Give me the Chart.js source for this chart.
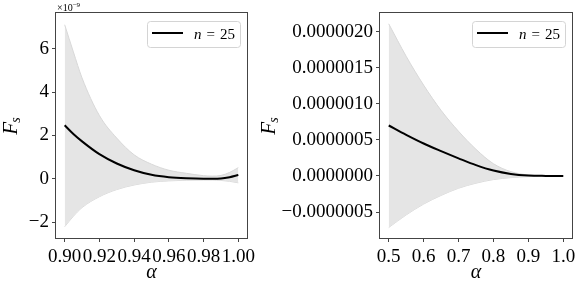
<!DOCTYPE html>
<html>
<head>
<meta charset="utf-8">
<script src="https://cdn.jsdelivr.net/npm/chart.js@4.4.0/dist/chart.umd.min.js"></script>
<style>
  body { margin: 0; background: #fff; }
  #wrap { position: relative; width: 581px; height: 288px; }
  canvas { position: absolute; top: 0; }
  #left { left: 0; }
  #right { left: 258px; }
</style>
</head>
<body>
<div id="wrap">
  <canvas id="left" width="258" height="288"></canvas>
  <canvas id="right" width="323" height="288"></canvas>
</div>
<script>
// left panel, values in units of 1e-9
const leftAlpha = [0.90, 0.905, 0.91, 0.92, 0.93, 0.94, 0.95, 0.96, 0.97, 0.98, 0.985, 0.99, 0.995, 1.00];
const leftMean  = [2.47, 2.07, 1.73, 1.14, 0.71, 0.40, 0.19, 0.08, 0.03, 0.01, 0.01, 0.02, 0.08, 0.18];
const leftUpper = [7.10, 5.85, 4.65, 2.92, 1.88, 1.11, 0.68, 0.40, 0.26, 0.15, 0.13, 0.16, 0.30, 0.52];
const leftLower = [-2.20, -1.72, -1.32, -0.82, -0.49, -0.28, -0.15, -0.09, -0.06, -0.05, -0.05, -0.07, -0.11, -0.18];
const leftXTicks = [0.90, 0.92, 0.94, 0.96, 0.98, 1.00];
const leftXLabels = ['0.90', '0.92', '0.94', '0.96', '0.98', '1.00'];
const leftYTicks = [-2, 0, 2, 4, 6];
const leftYLabels = ['\u22122', '0', '2', '4', '6'];

// right panel, values in units of 1e-6
const rightAlpha = [0.50, 0.55, 0.60, 0.65, 0.70, 0.75, 0.80, 0.85, 0.90, 0.95, 1.00];
const rightMean  = [0.70, 0.57, 0.45, 0.345, 0.245, 0.15, 0.075, 0.028, 0.006, 0.001, 0.0];
const rightUpper = [2.11, 1.66, 1.26, 0.91, 0.62, 0.37, 0.17, 0.06, 0.014, 0.002, 0.0];
const rightLower = [-0.715, -0.54, -0.39, -0.27, -0.17, -0.10, -0.05, -0.023, -0.009, -0.002, 0.0];
const rightXTicks = [0.5, 0.6, 0.7, 0.8, 0.9, 1.0];
const rightXLabels = ['0.5', '0.6', '0.7', '0.8', '0.9', '1.0'];
const rightYTicks = [-0.5, 0, 0.5, 1.0, 1.5, 2.0];
const rightYLabels = ['\u22120.0000005', '0.0000000', '0.0000005', '0.0000010', '0.0000015', '0.0000020'];

const legendLabel = 'n = 25';
const FONT = "'Liberation Serif', 'DejaVu Serif', serif";

function pts(xs, ys) {
    return xs.map((x, i) => ({x: x, y: ys[i]}));
}

// box around the plot area
const frame = {
    id: 'frame',
    afterDatasetsDraw(chart) {
        const {ctx, chartArea: a} = chart;
        ctx.save();
        ctx.strokeStyle = '#444';
        ctx.lineWidth = 1;
        ctx.strokeRect(a.left - 0.5, a.top - 0.5, a.right - a.left + 1, a.bottom - a.top + 1);
        ctx.restore();
    }
};

// legend drawn inside the upper right corner
const insideLegend = {
    id: 'insideLegend',
    afterDraw(chart) {
        const {ctx, chartArea: a} = chart;
        const ds = chart.data.datasets[0];
        const w = 93, h = 26;
        const x = a.right - 7 - w, y = a.top + 8;
        ctx.save();
        ctx.beginPath();
        ctx.roundRect(x + 0.5, y + 0.5, w, h, 3);
        ctx.fillStyle = 'rgba(255,255,255,0.8)';
        ctx.fill();
        ctx.strokeStyle = '#d4d4d4';
        ctx.lineWidth = 1;
        ctx.stroke();
        ctx.beginPath();
        ctx.moveTo(x + 5, y + 12);
        ctx.lineTo(x + 36, y + 12);
        ctx.strokeStyle = ds.borderColor;
        ctx.lineWidth = ds.borderWidth;
        ctx.stroke();
        const sym = ds.label.split(' ')[0];
        const rest = ds.label.slice(sym.length);
        ctx.fillStyle = '#000';
        ctx.textBaseline = 'alphabetic';
        ctx.font = 'italic 15px ' + FONT;
        ctx.fillText(sym, x + 47, y + 17.5);
        const sw = ctx.measureText(sym).width;
        ctx.font = '15px ' + FONT;
        ctx.fillText(rest.replace(/ /g, '\u2004'), x + 47 + sw, y + 17.5);
        ctx.restore();
    }
};

// rotated F_s title and the optional offset text
const extras = {
    id: 'extras',
    afterDraw(chart, args, opts) {
        const {ctx, chartArea: a} = chart;
        ctx.save();
        ctx.fillStyle = '#000';
        ctx.translate(10, (a.top + a.bottom) / 2);
        ctx.rotate(-Math.PI / 2);
        ctx.font = 'italic 21px ' + FONT;
        const fw = ctx.measureText('F').width;
        ctx.font = 'italic 14px ' + FONT;
        const sw = ctx.measureText('s').width;
        const x0 = -(fw + sw) / 2;
        ctx.font = 'italic 21px ' + FONT;
        ctx.fillText('F', x0, 7);
        ctx.font = 'italic 14px ' + FONT;
        ctx.fillText('s', x0 + fw - 1, 10);
        ctx.restore();
        if (opts.exp) {
            ctx.save();
            ctx.fillStyle = '#000';
            ctx.font = '10px ' + FONT;
            ctx.fillText('\u00d710', a.left + 1, a.top - 2);
            const w = ctx.measureText('\u00d710').width;
            ctx.font = '7px ' + FONT;
            ctx.fillText(opts.exp, a.left + 1 + w, a.top - 6);
            ctx.restore();
        }
    }
};

function makeChart(id, cfg) {
    const ctx = document.getElementById(id).getContext('2d');
    return new Chart(ctx, {
        type: 'line',
        data: {
            datasets: [{
                label: legendLabel,
                data: pts(cfg.alpha, cfg.mean),
                borderColor: '#000',
                borderWidth: 2,
                pointRadius: 0,
                fill: false,
                cubicInterpolationMode: 'monotone'
            }, {
                label: 'upper',
                data: pts(cfg.alpha, cfg.upper),
                borderColor: '#d8d8d8',
                borderWidth: 1,
                backgroundColor: '#e5e5e5',
                pointRadius: 0,
                fill: '+1',
                cubicInterpolationMode: 'monotone'
            }, {
                label: 'lower',
                data: pts(cfg.alpha, cfg.lower),
                borderColor: '#d8d8d8',
                borderWidth: 1,
                pointRadius: 0,
                fill: false,
                cubicInterpolationMode: 'monotone'
            }]
        },
        options: {
            responsive: false,
            animation: false,
            devicePixelRatio: 1,
            layout: { padding: { left: 0, top: 13, right: cfg.padRight, bottom: 0 } },
            plugins: {
                legend: { display: false },
                tooltip: { enabled: false },
                extras: { exp: cfg.exp }
            },
            scales: {
                x: {
                    type: 'linear',
                    min: cfg.xMin,
                    max: cfg.xMax,
                    afterBuildTicks: s => { s.ticks = cfg.xTicks.map(v => ({value: v})); },
                    afterFit: s => { s.height = 50; },
                    border: { display: false },
                    grid: { drawOnChartArea: false, drawTicks: true, tickLength: 4, color: '#444' },
                    ticks: {
                        autoSkip: false,
                        maxRotation: 0,
                        minRotation: 0,
                        padding: 0,
                        color: '#000',
                        font: { family: FONT, size: 19, lineHeight: 1.6 },
                        callback: (v, i) => cfg.xLabels[i]
                    },
                    title: {
                        display: true,
                        text: '\u03b1',
                        color: '#000',
                        padding: { top: 0, bottom: 5 },
                        font: { family: FONT, size: 20, style: 'italic', lineHeight: 1 }
                    }
                },
                y: {
                    type: 'linear',
                    min: cfg.yMin,
                    max: cfg.yMax,
                    afterBuildTicks: s => { s.ticks = cfg.yTicks.map(v => ({value: v})); },
                    afterFit: s => { s.width = cfg.yWidth; },
                    border: { display: false },
                    grid: { drawOnChartArea: false, drawTicks: true, tickLength: 4, color: '#444' },
                    ticks: {
                        padding: 3,
                        color: '#000',
                        font: { family: FONT, size: 19, lineHeight: 1 },
                        callback: (v, i) => cfg.yLabels[i]
                    }
                }
            }
        },
        plugins: [frame, insideLegend, extras]
    });
}

makeChart('left', {
    alpha: leftAlpha, mean: leftMean, upper: leftUpper, lower: leftLower,
    xTicks: leftXTicks, xLabels: leftXLabels, yTicks: leftYTicks, yLabels: leftYLabels,
    xMin: 0.895, xMax: 1.005, yMin: -2.72, yMax: 7.64,
    yWidth: 56, padRight: 11, exp: '\u22129'
});

makeChart('right', {
    alpha: rightAlpha, mean: rightMean, upper: rightUpper, lower: rightLower,
    xTicks: rightXTicks, xLabels: rightXLabels, yTicks: rightYTicks, yLabels: rightYLabels,
    xMin: 0.475, xMax: 1.025, yMin: -0.86, yMax: 2.26,
    yWidth: 122, padRight: 9, exp: null
});
</script>
</body>
</html>
